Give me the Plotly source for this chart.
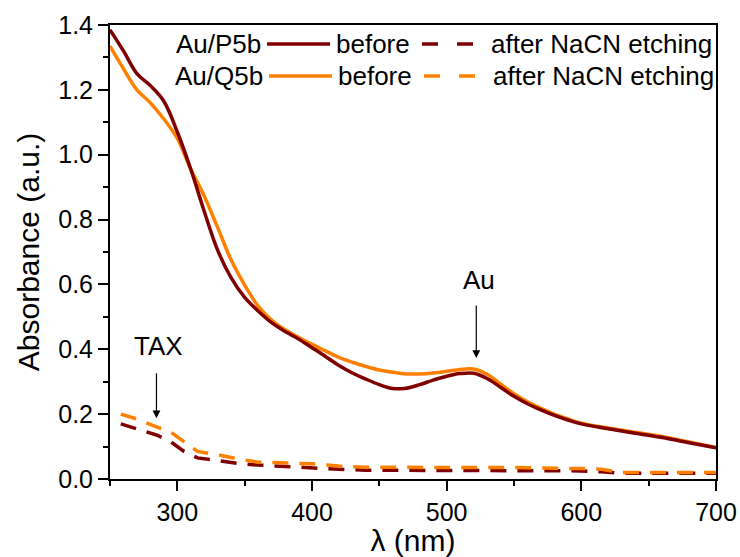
import plotly.graph_objects as go

# ---- data ----
wl_before = [250, 260, 270, 280, 290, 300, 310, 320, 330, 340, 350, 360, 370, 380, 390, 400, 410, 420, 430, 440,
             450, 460, 470, 480, 490, 500, 510, 520, 530, 540, 550, 560, 570, 580, 590, 600, 620, 640, 660, 680, 700]
abs_p5b_before = [1.385, 1.32, 1.25, 1.213, 1.165, 1.07, 0.955, 0.825, 0.705, 0.62, 0.56, 0.518, 0.482, 0.455, 0.432,
                  0.405, 0.378, 0.35, 0.327, 0.308, 0.291, 0.279, 0.28, 0.291, 0.305, 0.317, 0.325, 0.326, 0.31,
                  0.283, 0.255, 0.232, 0.213, 0.196, 0.182, 0.17, 0.155, 0.141, 0.128, 0.112, 0.096]
abs_q5b_before = [1.335, 1.265, 1.2, 1.16, 1.11, 1.05, 0.955, 0.872, 0.775, 0.675, 0.598, 0.533, 0.49, 0.46, 0.437,
                  0.415, 0.395, 0.375, 0.36, 0.347, 0.336, 0.329, 0.324, 0.324, 0.327, 0.332, 0.338, 0.339, 0.323,
                  0.293, 0.263, 0.238, 0.218, 0.2, 0.185, 0.172, 0.157, 0.144, 0.131, 0.114, 0.097]

wl_after = [258, 270, 285, 295, 305, 315, 330, 345, 360, 380, 400, 420, 440, 460, 500, 560, 600, 615, 630, 700]
abs_p5b_after = [0.17, 0.155, 0.135, 0.115, 0.085, 0.065, 0.057, 0.048, 0.043, 0.038, 0.035, 0.03, 0.027, 0.027,
                 0.027, 0.027, 0.025, 0.022, 0.018, 0.018]
abs_q5b_after = [0.2, 0.185, 0.16, 0.145, 0.115, 0.085, 0.075, 0.062, 0.052, 0.05, 0.047, 0.04, 0.036, 0.036,
                 0.036, 0.035, 0.032, 0.03, 0.02, 0.02]

x_ticks = [300, 400, 500, 600, 700]
y_ticks = [0.0, 0.2, 0.4, 0.6, 0.8, 1.0, 1.2, 1.4]

DARK = "#800000"
ORANGE = "#FF8000"
FONT = "Arial, Liberation Sans, sans-serif"
LW = 3.5

fig = go.Figure()
fig.add_trace(go.Scatter(x=wl_after, y=abs_p5b_after, mode="lines",
                         line=dict(color=DARK, width=LW, dash="16px,11px"), showlegend=False))
fig.add_trace(go.Scatter(x=wl_after, y=abs_q5b_after, mode="lines",
                         line=dict(color=ORANGE, width=LW, dash="16px,11px"), showlegend=False))
fig.add_trace(go.Scatter(x=wl_before, y=abs_q5b_before, mode="lines",
                         line=dict(color=ORANGE, width=LW, shape="spline", smoothing=1.0), showlegend=False))
fig.add_trace(go.Scatter(x=wl_before, y=abs_p5b_before, mode="lines",
                         line=dict(color=DARK, width=LW, shape="spline", smoothing=1.0), showlegend=False))

axis_common = dict(showline=True, linecolor="black", linewidth=2, mirror=True, ticks="outside",
                   ticklen=10, tickwidth=2, tickcolor="black", showgrid=False, zeroline=False,
                   tickfont=dict(family=FONT, size=25, color="black"))

fig.update_xaxes(range=[250, 700], tickvals=x_ticks,
                 minor=dict(dtick=50, tick0=250, ticks="outside", ticklen=5, tickwidth=2, tickcolor="black"),
                 title=dict(text="λ (nm)", font=dict(family=FONT, size=30, color="black"), standoff=8),
                 **axis_common)
fig.update_yaxes(range=[0, 1.4], tickvals=y_ticks, tickformat=".1f",
                 minor=dict(dtick=0.1, tick0=0, ticks="outside", ticklen=5, tickwidth=2, tickcolor="black"),
                 title=dict(text="Absorbance (a.u.)", font=dict(family=FONT, size=30, color="black"), standoff=10),
                 **axis_common)

# legend built from text + sample lines (paper coords)
W, H = 740, 557
L, R, T, B = 110, 24, 25, 78
pw, ph = W - L - R, H - T - B


def px(x):
    return (x - L) / pw


def py(y):
    return 1 - (y - T) / ph


rows = [("Au/P5b", DARK, 44, 0), ("Au/Q5b", ORANGE, 76, 2)]
shapes = []
annotations = []
for name, col, yy, dx in rows:
    annotations.append(dict(x=px(263 + dx), y=py(yy), xref="paper", yref="paper", text=name, showarrow=False,
                            xanchor="right", yanchor="middle", font=dict(family=FONT, size=26, color="black")))
    shapes.append(dict(type="line", xref="paper", yref="paper", x0=px(267 + dx), x1=px(330 + dx),
                       y0=py(yy), y1=py(yy), line=dict(color=col, width=LW)))
    annotations.append(dict(x=px(334 + dx), y=py(yy), xref="paper", yref="paper", text="before", showarrow=False,
                            xanchor="left", yanchor="middle", font=dict(family=FONT, size=26, color="black")))
    shapes.append(dict(type="line", xref="paper", yref="paper", x0=px(422 + dx), x1=px(473 + dx),
                       y0=py(yy), y1=py(yy), line=dict(color=col, width=LW, dash="16px,19px")))
    annotations.append(dict(x=px(714 + dx), y=py(yy), xref="paper", yref="paper", text="after NaCN etching",
                            showarrow=False, xanchor="right", yanchor="middle",
                            font=dict(family=FONT, size=26, color="black")))

# arrows and labels
annotations.append(dict(x=522, y=0.373, ax=522, ay=0.54, xref="x", yref="y", axref="x", ayref="y", text="",
                        showarrow=True, arrowhead=2, arrowsize=1.3, arrowwidth=1.2, arrowcolor="black"))
annotations.append(dict(x=524, y=0.613, xref="x", yref="y", text="Au", showarrow=False,
                        font=dict(family=FONT, size=26, color="black")))
annotations.append(dict(x=284.5, y=0.187, ax=284.5, ay=0.331, xref="x", yref="y", axref="x", ayref="y", text="",
                        showarrow=True, arrowhead=2, arrowsize=1.3, arrowwidth=1.2, arrowcolor="black"))
annotations.append(dict(x=286, y=0.41, xref="x", yref="y", text="TAX", showarrow=False,
                        font=dict(family=FONT, size=26, color="black")))

fig.update_layout(width=W, height=H, margin=dict(l=L, r=R, t=T, b=B, autoexpand=False),
                  paper_bgcolor="white", plot_bgcolor="white", shapes=shapes, annotations=annotations,
                  font=dict(family=FONT, color="black"))

fig.write_html("out.html")
